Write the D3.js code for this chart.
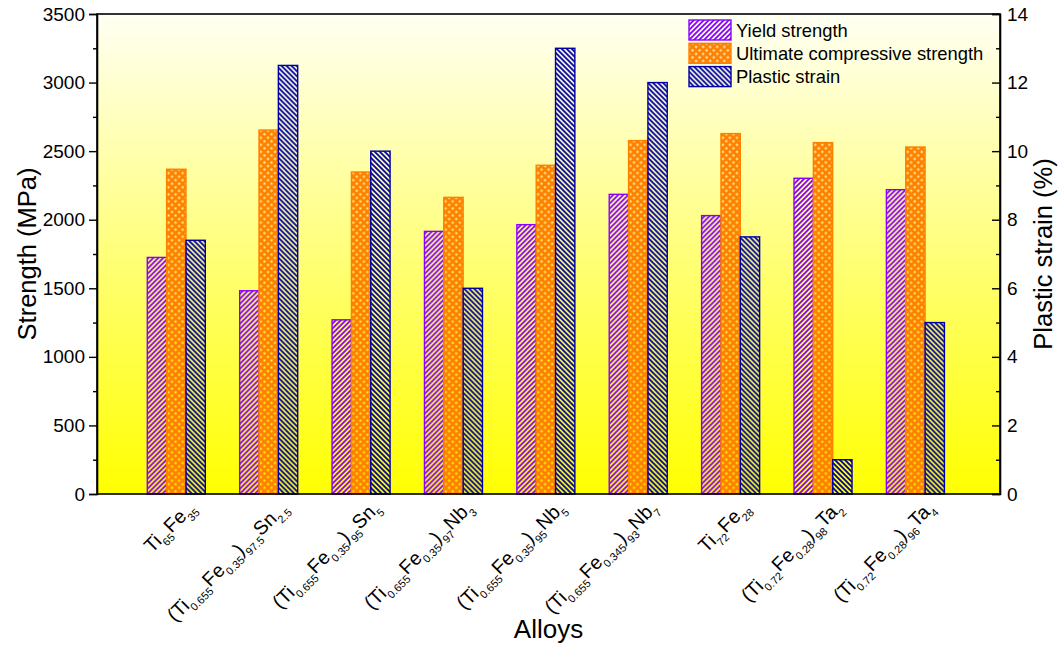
<!DOCTYPE html>
<html>
<head>
<meta charset="utf-8">
<script src="https://cdn.jsdelivr.net/npm/d3@7"></script>
<style>
  html, body { margin: 0; padding: 0; background: #ffffff; }
  svg { display: block; font-family: Arial, "Liberation Sans", sans-serif; }
</style>
</head>
<body>
<svg id="chart" width="1062" height="646"></svg>
<script>
// ---- data ----
const alloys = [
  "Ti_{65}Fe_{35}",
  "(Ti_{0.655}Fe_{0.35})_{97.5}Sn_{2.5}",
  "(Ti_{0.655}Fe_{0.35})_{95}Sn_{5}",
  "(Ti_{0.655}Fe_{0.35})_{97}Nb_{3}",
  "(Ti_{0.655}Fe_{0.35})_{95}Nb_{5}",
  "(Ti_{0.655}Fe_{0.345})_{93}Nb_{7}",
  "Ti_{72}Fe_{28}",
  "(Ti_{0.72}Fe_{0.28})_{98}Ta_{2}",
  "(Ti_{0.72}Fe_{0.28})_{96}Ta_{4}"
];
const yieldStrength = [1725, 1482, 1270, 1915, 1964, 2185, 2030, 2302, 2219];
const ultimateStrength = [2368, 2654, 2348, 2163, 2397, 2577, 2628, 2562, 2530];
const plasticStrain = [7.4, 12.5, 10.0, 6.0, 13.0, 12.0, 7.5, 1.0, 5.0];
const seriesNames = ["Yield strength", "Ultimate compressive strength", "Plastic strain"];
const leftTicks = [0, 500, 1000, 1500, 2000, 2500, 3000, 3500];
const rightTicks = [0, 2, 4, 6, 8, 10, 12, 14];

// ---- layout ----
const W = 1062, H = 646;
const margin = { top: 14, right: 62, bottom: 152, left: 97 };
const iw = W - margin.left - margin.right;
const ih = H - margin.top - margin.bottom;

const svg = d3.select("#chart");
const defs = svg.append("defs");

// background gradient
const grad = defs.append("linearGradient").attr("id", "bg")
  .attr("x1", 0).attr("y1", 0).attr("x2", 0).attr("y2", 1);
grad.append("stop").attr("offset", "0%").attr("stop-color", "#fffff4");
grad.append("stop").attr("offset", "100%").attr("stop-color", "#ffff00");

const colYield = "#8a00ff", colUlt = "#ff8000", colPl = "#0000a8";

// patterns
const pY = defs.append("pattern").attr("id", "patY").attr("patternUnits", "userSpaceOnUse")
  .attr("width", 5).attr("height", 5);
pY.append("path").attr("d", "M-1,1 L1,-1 M0,5 L5,0 M4,6 L6,4")
  .attr("stroke", colYield).attr("stroke-width", 1.8);

const pP = defs.append("pattern").attr("id", "patP").attr("patternUnits", "userSpaceOnUse")
  .attr("width", 5).attr("height", 5);
pP.append("path").attr("d", "M-1,4 L1,6 M0,0 L5,5 M4,-1 L6,1")
  .attr("stroke", colPl).attr("stroke-width", 1.8);

const pU = defs.append("pattern").attr("id", "patU").attr("patternUnits", "userSpaceOnUse")
  .attr("width", 5).attr("height", 5).attr("patternTransform", "rotate(45)");
pU.append("path").attr("d", "M0,0 H5 V5 H0 Z M1.5,1.5 V3.5 H3.5 V1.5 Z")
  .attr("fill", colUlt).attr("fill-rule", "evenodd");

const fills = ["url(#patY)", "url(#patU)", "url(#patP)"];
const strokes = [colYield, colUlt, colPl];

const g = svg.append("g").attr("transform", `translate(${margin.left},${margin.top})`);

g.append("rect").attr("width", iw).attr("height", ih).attr("fill", "url(#bg)");

// scales
const x = d3.scaleBand().domain(alloys).range([0, iw])
  .paddingInner(0.372).paddingOuter(0.573).align(0.475);
const xs = d3.scaleBand().domain(seriesNames).range([0, x.bandwidth()]);
const y = d3.scaleLinear().domain([0, 3500]).range([ih, 0]);
const y2 = d3.scaleLinear().domain([0, 14]).range([ih, 0]);

// bars
const rows = alloys.map((a, i) => ({ a, vals: [
  { s: 0, v: yieldStrength[i], sc: y },
  { s: 1, v: ultimateStrength[i], sc: y },
  { s: 2, v: plasticStrain[i], sc: y2 }
]}));

const grp = g.selectAll("g.grp").data(rows).join("g").attr("class", "grp")
  .attr("transform", d => `translate(${x(d.a)},0)`);
grp.selectAll("rect").data(d => d.vals).join("rect")
  .attr("x", d => xs(seriesNames[d.s]))
  .attr("y", d => d.sc(d.v))
  .attr("width", xs.bandwidth())
  .attr("height", d => ih - d.sc(d.v))
  .attr("fill", d => fills[d.s])
  .attr("stroke", d => strokes[d.s])
  .attr("stroke-width", 1.4);

// frame
g.append("rect").attr("width", iw).attr("height", ih)
  .attr("fill", "none").attr("stroke", "#000").attr("stroke-width", 1.6);

// left axis
g.append("g")
  .call(d3.axisLeft(y).tickValues(leftTicks).tickFormat(d3.format("d")).tickSize(8).tickPadding(4));
g.append("g").call(d3.axisLeft(y).tickValues(d3.range(250, 3500, 500)).tickFormat("").tickSize(4))
  .call(s => s.select(".domain").remove());

// right axis (inward ticks)
g.append("g").attr("transform", `translate(${iw},0)`)
  .call(d3.axisRight(y2).tickValues(rightTicks).tickFormat(d3.format("d")).tickSize(-8).tickPadding(7));
g.append("g").attr("transform", `translate(${iw},0)`)
  .call(d3.axisRight(y2).tickValues(d3.range(1, 14, 2)).tickFormat("").tickSize(-4))
  .call(s => s.select(".domain").remove());

g.selectAll(".domain").attr("stroke", "#000").attr("stroke-width", 1.6);
g.selectAll(".tick line").attr("stroke", "#000").attr("stroke-width", 1.4);
g.selectAll(".tick text").attr("font-size", 19).attr("fill", "#000")
  .attr("font-family", "Arial, 'Liberation Sans', sans-serif");

// x category labels with subscripts
function parseLabel(str) {
  const parts = [];
  const re = /_\{([^}]*)\}|([^_]+)/g;
  let m;
  while ((m = re.exec(str)) !== null) {
    if (m[1] !== undefined) parts.push({ t: m[1], sub: true });
    else parts.push({ t: m[2], sub: false });
  }
  return parts;
}
const xl = g.append("g").attr("class", "xlabels");
alloys.forEach(a => {
  const cx = x(a) + x.bandwidth() / 2 + 20;
  const t = xl.append("text")
    .attr("transform", `translate(${cx},${ih + 15}) rotate(-45)`)
    .attr("text-anchor", "end")
    .attr("font-size", 19.5).attr("fill", "#000");
  let shifted = false;
  parseLabel(a).forEach(p => {
    const ts = t.append("tspan").text(p.t);
    if (p.sub) {
      ts.attr("font-size", 11);
      if (!shifted) { ts.attr("dy", 6); shifted = true; }
    } else if (shifted) {
      ts.attr("dy", -6); shifted = false;
    }
  });
});

// axis titles
svg.append("text").attr("transform", `translate(36,${margin.top + ih / 2}) rotate(-90)`)
  .attr("text-anchor", "middle").attr("font-size", 25.5).text("Strength (MPa)");
svg.append("text").attr("transform", `translate(1052,${margin.top + ih / 2}) rotate(-90)`)
  .attr("text-anchor", "middle").attr("font-size", 25.5).text("Plastic strain (%)");
svg.append("text").attr("x", margin.left + iw / 2).attr("y", 638)
  .attr("text-anchor", "middle").attr("font-size", 26).text("Alloys");

// legend
const lg = svg.append("g").attr("transform", "translate(689,20)");
seriesNames.forEach((s, i) => {
  const r = lg.append("g").attr("transform", `translate(0,${i * 23.3})`);
  r.append("rect").attr("width", 42).attr("height", 20)
    .attr("fill", fills[i]).attr("stroke", strokes[i]).attr("stroke-width", 1.4);
  r.append("text").attr("x", 47).attr("y", 16.5).attr("font-size", 18.4).text(s);
});
</script>
</body>
</html>
